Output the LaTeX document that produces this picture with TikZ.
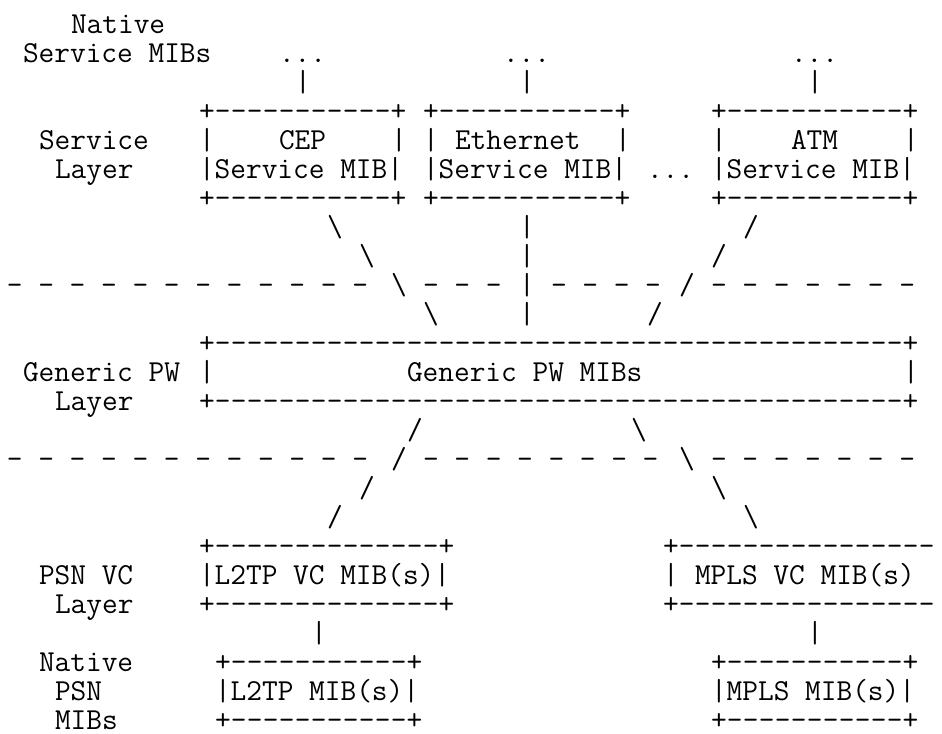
\documentclass[tikz,border=0pt]{standalone}
\usepackage{fontspec}
\newcommand\dsh[1]{\begingroup\count255=#1\relax\loop\ifnum\count255>0 \hbox to 12pt{\hss-\hss}\advance\count255 by -1\relax\repeat\endgroup}
\newcommand\bs{\textbackslash}
\tikzset{t/.style={anchor=base west,inner sep=0pt,outer sep=0pt,text=black,font=\ttfamily\fontsize{22.857pt}{26pt}\selectfont}}
\newcommand\seg[3]{\node[t] (l#1c#2) at ({5.25pt+12pt*#2},{-24.75pt-21.75pt*(#1-1)}) {#3};}
\begin{document}
\begin{tikzpicture}
\fill[white] (0,0) rectangle (706.5pt,-549.75pt);
\useasboundingbox (0,0) rectangle (706.5pt,-549.75pt);
% line 1-3
\seg{1}{4}{Native}
\seg{2}{1}{Service~MIBs}
\seg{2}{17}{...}
\seg{2}{31}{...}
\seg{2}{49}{...}
\seg{3}{18}{|}
\seg{3}{32}{|}
\seg{3}{50}{|}
% service boxes
\seg{4}{12}{+\dsh{11}+}
\seg{4}{26}{+\dsh{11}+}
\seg{4}{44}{+\dsh{11}+}
\seg{5}{2}{Service}
\seg{5}{12}{|}
\seg{5}{17}{CEP}
\seg{5}{24}{|}
\seg{5}{26}{|}
\seg{5}{28}{Ethernet}
\seg{5}{38}{|}
\seg{5}{44}{|}
\seg{5}{49}{ATM}
\seg{5}{56}{|}
\seg{6}{3}{Layer}
\seg{6}{12}{|Service~MIB|}
\seg{6}{26}{|Service~MIB|}
\seg{6}{40}{...}
\seg{6}{44}{|Service~MIB|}
\seg{7}{12}{+\dsh{11}+}
\seg{7}{26}{+\dsh{11}+}
\seg{7}{44}{+\dsh{11}+}
% links to generic layer
\seg{8}{20}{\bs}
\seg{8}{32}{|}
\seg{8}{46}{/}
\seg{9}{22}{\bs}
\seg{9}{32}{|}
\seg{9}{44}{/}
\seg{10}{0}{-~-~-~-~-~-~-~-~-~-~-~-}
\seg{10}{24}{\bs}
\seg{10}{26}{-~-~-}
\seg{10}{32}{|}
\seg{10}{34}{-~-~-~-}
\seg{10}{42}{/}
\seg{10}{44}{-~-~-~-~-~-~-}
\seg{11}{26}{\bs}
\seg{11}{32}{|}
\seg{11}{40}{/}
% generic PW box
\seg{12}{12}{+\dsh{43}+}
\seg{13}{1}{Generic~PW}
\seg{13}{12}{|}
\seg{13}{25}{Generic~PW~MIBs}
\seg{13}{56}{|}
\seg{14}{3}{Layer}
\seg{14}{12}{+\dsh{43}+}
% links to PSN layer
\seg{15}{25}{/}
\seg{15}{39}{\bs}
\seg{16}{0}{-~-~-~-~-~-~-~-~-~-~-~-}
\seg{16}{24}{/}
\seg{16}{26}{-~-~-~-~-~-~-~-}
\seg{16}{42}{\bs}
\seg{16}{44}{-~-~-~-~-~-~-}
\seg{17}{22}{/}
\seg{17}{44}{\bs}
\seg{18}{20}{/}
\seg{18}{46}{\bs}
% PSN VC boxes
\seg{19}{12}{+\dsh{14}+}
\seg{19}{41}{+\dsh{16}}
\seg{20}{2}{PSN~VC}
\seg{20}{12}{|L2TP~VC~MIB(s)|}
\seg{20}{41}{|}
\seg{20}{43}{MPLS~VC~MIB(s)}
\seg{21}{3}{Layer}
\seg{21}{12}{+\dsh{14}+}
\seg{21}{41}{+\dsh{16}}
\seg{22}{19}{|}
\seg{22}{50}{|}
% native PSN boxes
\seg{23}{2}{Native}
\seg{23}{13}{+\dsh{11}+}
\seg{23}{44}{+\dsh{11}+}
\seg{24}{3}{PSN}
\seg{24}{13}{|L2TP~MIB(s)|}
\seg{24}{44}{|MPLS~MIB(s)|}
\seg{25}{3}{MIBs}
\seg{25}{13}{+\dsh{11}+}
\seg{25}{44}{+\dsh{11}+}
\end{tikzpicture}
\end{document}
